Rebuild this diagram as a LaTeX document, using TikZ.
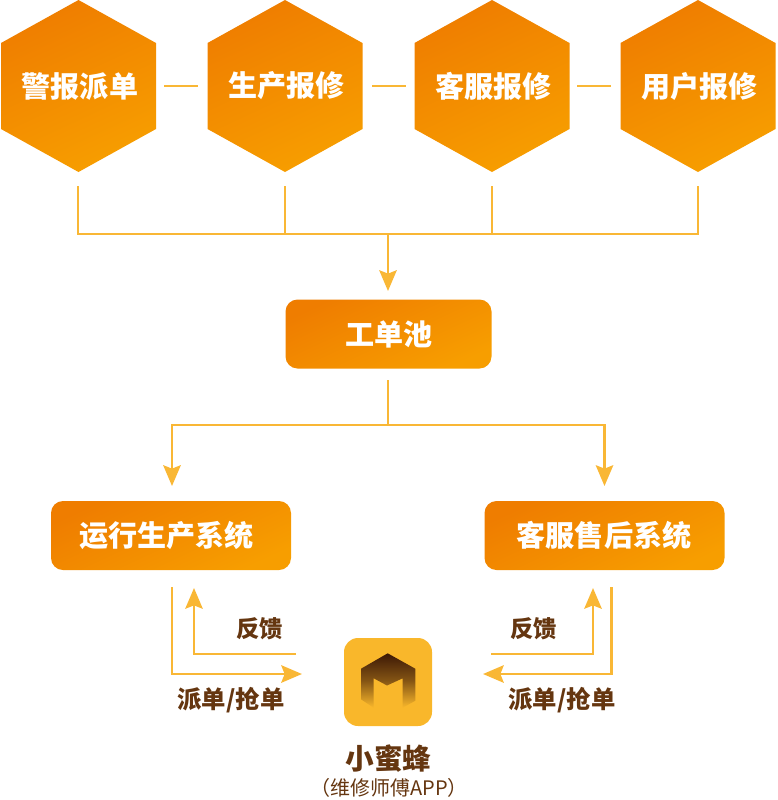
\documentclass[tikz,border=0pt]{standalone}
\usepackage{fontspec}
\setmainfont{Noto Sans CJK SC}
\usetikzlibrary{arrows.meta}
\definecolor{linecol}{HTML}{F9B735}
\definecolor{darkor}{HTML}{EF7D00}
\definecolor{lightor}{HTML}{F79E00}
\definecolor{brown}{HTML}{653610}
\definecolor{iconcol}{HTML}{F9B72B}
\definecolor{logodark}{HTML}{3C1806}
\tikzset{
  orangefill/.style={top color=darkor,bottom color=lightor,shading angle=25},
  labeltext/.style={inner sep=0pt,text=white,font=\bfseries\fontsize{21.8pt}{24pt}\selectfont},
  hexnode/.style={labeltext,minimum width=116.25pt,minimum height=129pt},
  boxnode/.style={labeltext,orangefill,rounded corners=9pt,minimum height=51.75pt},
  conn/.style={draw=linecol,line width=2.2pt},
  arr/.style={conn,-{Stealth[length=15.5pt,width=13pt,inset=2.5pt]}},
  brownlabel/.style={inner sep=0pt,text=brown,font=\bfseries\fontsize{17.5pt}{20pt}\selectfont},
}
\newcommand{\hexa}[3]{%
  \shade[orangefill] (#1,0) -- (#1+77.5,43) -- (#1+77.5,129) -- (#1,172) -- (#1-77.5,129) -- (#1-77.5,43) -- cycle;
  \node[hexnode] (#2) at (#1,86) {\hspace{2.2pt}#3};
}
\begin{document}
\begin{tikzpicture}[x=0.75pt,y=-0.75pt]
\useasboundingbox (0,0) rectangle (778,800);
\hexa{78.5}{h1}{警报派单}
\hexa{285}{h2}{生产报修}
\hexa{492}{h3}{客服报修}
\hexa{698}{h4}{用户报修}
% dashes between hexagons
\coordinate (d1a) at (164,86); \coordinate (d1b) at (198,86);
\coordinate (d2a) at (372,86); \coordinate (d2b) at (406,86);
\coordinate (d3a) at (577,86); \coordinate (d3b) at (611,86);
\draw[conn] (d1a) -- (d1b);
\draw[conn] (d2a) -- (d2b);
\draw[conn] (d3a) -- (d3b);
% pool and systems
\node[boxnode,minimum width=154.5pt] (pool) at (388.5,334) {\hspace{1.2pt}工单池};
\node[boxnode,minimum width=180pt] (sys1) at (171,535.5) {\hspace{-7pt}运行生产系统};
\node[boxnode,minimum width=180pt] (sys2) at (604.5,535.5) {\hspace{-0.7pt}客服售后系统};
% collector
\coordinate (c1) at (78,186); \coordinate (c2) at (285,186);
\coordinate (c3) at (492,186); \coordinate (c4) at (698,186);
\coordinate (c2b) at (285,234); \coordinate (c3b) at (492,234);
\coordinate (mid) at (388,234); \coordinate (midt) at (388,291);
\draw[conn,line join=miter] (c1) |- (mid) -| (c4);
\draw[conn] (c2) -- (c2b);
\draw[conn] (c3) -- (c3b);
\draw[arr] (mid) -- (midt);
% distribution
\coordinate (p1) at (388,380); \coordinate (p2) at (388,425);
\coordinate (a1) at (172,486); \coordinate (a2) at (604.5,486);
\draw[conn] (p1) -- (p2);
\draw[arr] (p2) -| (a1);
\draw[arr] (p2) -| (a2);
% icon
\node[fill=iconcol,rounded corners=10.5pt,minimum width=66pt,minimum height=66pt,inner sep=0pt] (app) at (388,682) {};
\shade[top color=logodark,bottom color=iconcol,middle color=logodark!62!iconcol]
  (387.7,653.3) -- (415.3,668.7) -- (415.3,700.7) -- (402.7,707.7) -- (402.7,678.3) -- (387,685.5) -- (373.7,678.3) -- (373.7,707.7) -- (361,699.3) -- (361,668.7) -- cycle;
% left loop
\coordinate (l1) at (172,587); \coordinate (l2) at (302,674);
\coordinate (l3) at (296,654); \coordinate (l4) at (194,588);
\draw[arr] (l1) |- (l2);
\draw[arr] (l3) -| (l4);
% right loop
\coordinate (r1) at (611.5,587); \coordinate (r2) at (483,674);
\coordinate (r3) at (491,654); \coordinate (r4) at (593,588);
\draw[arr] (r1) |- (r2);
\draw[arr] (r3) -| (r4);
% labels
\node[brownlabel] (t1) at (259.5,629) {反馈};
\node[brownlabel] (t2) at (533.5,629) {反馈};
\node[brownlabel,font=\bfseries\fontsize{18.3pt}{20pt}\selectfont] (t3) at (231,700) {派单/抢单};
\node[brownlabel,font=\bfseries\fontsize{18.3pt}{20pt}\selectfont] (t4) at (562,700) {派单/抢单};
\node[inner sep=0pt,text=brown,font=\bfseries\fontsize{21.5pt}{24pt}\selectfont] (name) at (388.5,759) {小蜜蜂};
\node[inner sep=0pt,text=brown,font=\fontsize{15pt}{18pt}\selectfont] (sub) at (389,788) {（维修师傅APP）};
\end{tikzpicture}
\end{document}
